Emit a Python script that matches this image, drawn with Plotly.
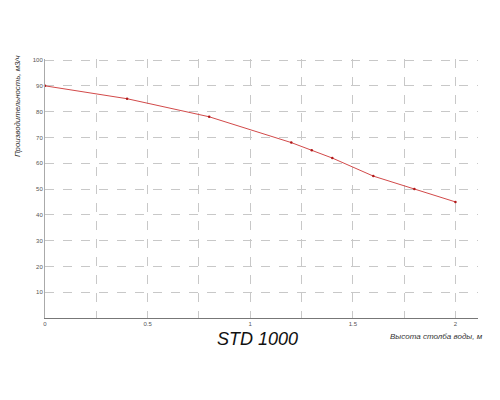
import plotly.graph_objects as go

# Data
head_m = [0, 0.4, 0.8, 1.2, 1.3, 1.4, 1.6, 1.8, 2.0]
flow_m3h = [90, 85, 78, 68, 65, 62, 55, 50, 45]

x_tick_vals = [0, 0.25, 0.5, 0.75, 1, 1.25, 1.5, 1.75, 2]
x_tick_text = ["0", "", "0.5", "", "1", "", "1.5", "", "2"]
y_tick_vals = [10, 20, 30, 40, 50, 60, 70, 80, 90, 100]
y_tick_text = ["10", "20", "30", "40", "50", "60", "70", "80", "90", "100"]

title_text = "STD 1000"
x_title = "Высота столба воды, м"
y_title = "Производительность, м3/ч"

fig = go.Figure()
fig.add_trace(go.Scatter(
    x=head_m, y=flow_m3h, mode="lines+markers",
    line=dict(color="#d24a4a", width=1),
    marker=dict(color="#b01818", size=2.5, symbol="circle"),
    showlegend=False, cliponaxis=False,
))

fig.update_layout(
    width=492, height=392,
    margin=dict(l=37, r=22, t=51, b=82),
    paper_bgcolor="white", plot_bgcolor="white",
    font=dict(family="Liberation Sans, Arial, sans-serif", color="#444"),
    xaxis=dict(
        range=[0, 2.11], tickvals=x_tick_vals, ticktext=x_tick_text,
        showgrid=True, gridcolor="#c8c8c8", griddash="dash", gridwidth=1,
        showline=True, linecolor="#777", linewidth=1,
        zeroline=False, ticks="", tickfont=dict(size=6, color="#555"),
    ),
    yaxis=dict(
        range=[0, 100.4], tickvals=y_tick_vals, ticktext=y_tick_text,
        showgrid=True, gridcolor="#c8c8c8", griddash="dash", gridwidth=1,
        showline=True, linecolor="#aaa", linewidth=1,
        zeroline=False, ticks="", tickfont=dict(size=6, color="#555"),
    ),
    annotations=[
        dict(text=title_text, xref="paper", yref="paper", x=0.49, y=-0.081,
             xanchor="center", yanchor="middle", showarrow=False,
             font=dict(size=18, color="#111", family="Liberation Sans, Arial, sans-serif",
                       style="italic")),
        dict(text=x_title, xref="paper", yref="paper", x=1.016, y=-0.073,
             xanchor="right", yanchor="middle", showarrow=False,
             font=dict(size=8, color="#333", style="italic")),
        dict(text=y_title, xref="paper", yref="paper", x=-0.062, y=0.819,
             xanchor="center", yanchor="middle", showarrow=False, textangle=-90,
             font=dict(size=7.8, color="#333", style="italic")),
    ],
)

fig.write_html("out.html")
